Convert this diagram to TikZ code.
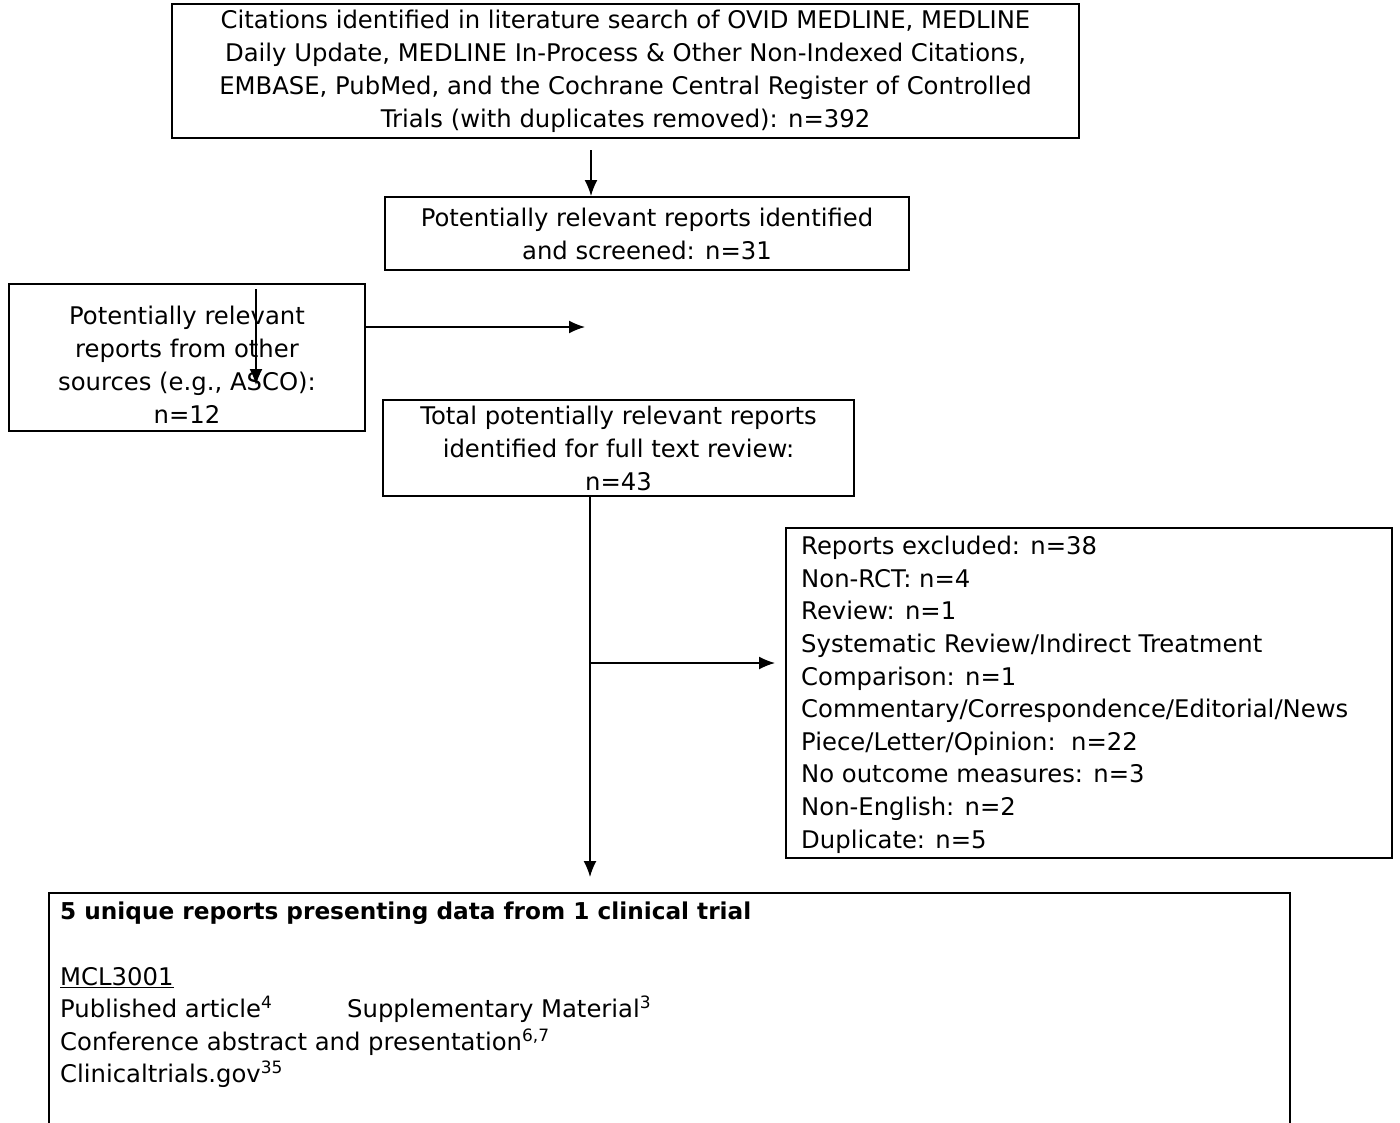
\documentclass[tikz,border=0pt]{standalone}
\usepackage{fontspec}
\setmainfont{DejaVu Sans}
\usetikzlibrary{arrows.meta}
\begin{document}
\begin{tikzpicture}[x=1pt,y=-1pt,
  box/.style={draw, line width=2pt, inner sep=0pt},
  txt/.style={align=center, inner sep=0pt, font=\fontsize{24.3}{33}\selectfont},
  ltxt/.style={align=left, inner sep=0pt, anchor=north west, font=\fontsize{24.3}{32.6}\selectfont},
  arr/.style={line width=1.5pt, -{Latex[length=16pt,width=13pt]}},
  ln/.style={line width=2pt}]
\useasboundingbox[fill=white] (0,0) rectangle (1400,1122);

% boxes
\node[box, txt, minimum width=907pt, minimum height=134pt] (b1) at (625.5,71)
 {Citations identified in literature search of OVID MEDLINE, MEDLINE\\
  Daily Update, MEDLINE In-Process \& Other Non-Indexed Citations,\\
  EMBASE, PubMed, and the Cochrane Central Register of Controlled\\
  Trials (with duplicates removed): n=392};
\node[box, txt, minimum width=524pt, minimum height=73pt] (b2) at (647,233.5)
 {Potentially relevant reports identified\\ and screened: n=31};
\node[box, minimum width=356pt, minimum height=147pt] (b3) at (187,357.5) {};
\node[txt] (t3) at (187,365)
 {Potentially relevant\\ reports from other\\ sources (e.g., ASCO):\\ n=12};
\node[box, txt, minimum width=471pt, minimum height=96pt] (b4) at (618.5,448)
 {Total potentially relevant reports\\ identified for full text review:\\ n=43};
\node[box, minimum width=606pt, minimum height=330pt] (b5) at (1089,693) {};
\node[ltxt] (t5) at (801,536)
 {Reports excluded: n=38\\
  Non-RCT: n=4\\
  Review: n=1\\
  Systematic Review/Indirect Treatment\\
  Comparison: n=1\\
  Commentary/Correspondence/Editorial/News\\
  Piece/Letter/Opinion:\ \ n=22\\
  No outcome measures: n=3\\
  Non-English: n=2\\
  Duplicate: n=5};

% bottom open box
\coordinate (b6bl) at (49,1126);
\coordinate (b6tl) at (49,893);
\coordinate (b6tr) at (1290,893);
\coordinate (b6br) at (1290,1126);
\draw[ln] (b6bl) -- (b6tl) -- (b6tr) -- (b6br);
\node[ltxt] (t6) at (60,902)
 {{\fontsize{23.2}{32.6}\selectfont\bfseries 5 unique reports presenting data from 1 clinical trial}\\[32.6pt]
  \underline{MCL3001}\\
  \makebox[287pt][l]{Published article\textsuperscript{4}}Supplementary Material\textsuperscript{3}\\
  Conference abstract and presentation\textsuperscript{6,7}\\
  Clinicaltrials.gov\textsuperscript{35}};

% connectors
\coordinate (a1s) at (591,150);
\draw[arr] (a1s) -- (a1s |- b2.north);

\coordinate (a2e) at (585,327);
\draw[arr] (b3.east |- a2e) -- (a2e);

\coordinate (v1s) at (256,289);
\coordinate (v1e) at (256,385);
\draw[arr] (v1s) -- (v1e);

\coordinate (trunk) at (590,877);
\draw[arr] (b4.south -| trunk) -- (trunk);
\coordinate (br) at (590,663);
\draw[arr, shorten >=10pt] (br) -- (br -| b5.west);
\end{tikzpicture}
\end{document}
